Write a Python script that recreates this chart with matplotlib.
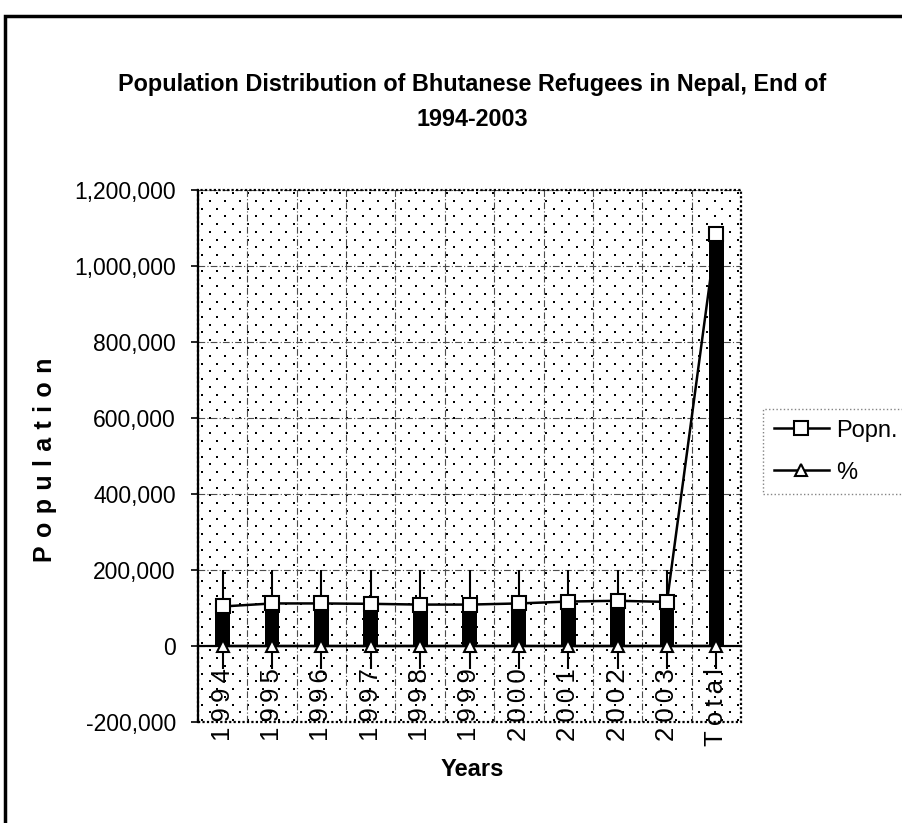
import numpy as np
import matplotlib
matplotlib.use("Agg")
import matplotlib.pyplot as plt
from matplotlib.patches import Rectangle
from matplotlib.ticker import FuncFormatter, MultipleLocator

# ---- data -------------------------------------------------------------
years = ["1994", "1995", "1996", "1997", "1998", "1999", "2000",
         "2001", "2002", "2003", "Total"]
popn = [104000, 112000, 112000, 111000, 109000, 109000, 112000,
        117000, 119000, 116000, 1085000]
pct = [9.6, 10.3, 10.3, 10.2, 10.0, 10.0, 10.3, 10.8, 11.0, 10.7, 100.0]
# high/low line ends
high_ends = [200000, 200000, 200000, 200000, 200000, 200000, 200000,
             200000, 200000, 200000]
low_ends = [-60000, -60000, -60000, -60000, -60000, -60000, -60000,
            -60000, -60000, -60000, -60000]

title_lines = ["Population Distribution of Bhutanese Refugees in Nepal, End of",
               "1994-2003"]

# ---- figure -----------------------------------------------------------
plt.rcParams['font.family'] = ['Liberation Sans', 'DejaVu Sans']

W, H = 903, 823
fig = plt.figure(figsize=(W / 100, H / 100), dpi=100)
fig.patch.set_facecolor('white')

ax_l, ax_r, ax_t, ax_b = 198, 741, 190, 722
ax = fig.add_axes([ax_l / W, 1 - ax_b / H, (ax_r - ax_l) / W, (ax_b - ax_t) / H])
ax.set_facecolor('white')

x = np.arange(len(years))
ax.set_xlim(-0.5, len(years) - 0.5)
ax.set_ylim(-200000, 1200000)

# stippled plot-area fill
pw, ph = ax_r - ax_l, ax_b - ax_t
dx, dy = 15.3, 7.75
xs, ys = [], []
for i, yy in enumerate(np.arange(3.0, ph, dy)):
    off = 4.0 if i % 2 == 0 else 4.0 + dx / 2
    cols = np.arange(off, pw, dx)
    xs.extend(cols)
    ys.extend([yy] * len(cols))
ax.scatter(np.array(xs) / pw, 1 - np.array(ys) / ph, s=2.2, marker='s',
           color='black', linewidths=0, transform=ax.transAxes, zorder=0.5)

# grid
grid_style = dict(color='0.3', lw=0.8, ls=(0, (6, 2, 1, 2)))
ax.yaxis.set_major_locator(MultipleLocator(200000))
ax.grid(axis='y', which='major', zorder=1, **grid_style)
ax.set_xticks(x[:-1] + 0.5, minor=True)
ax.grid(axis='x', which='minor', zorder=1, **grid_style)
ax.set_axisbelow(True)

# spines / border
for s in ('top', 'right'):
    ax.spines[s].set_visible(False)
ax.spines['left'].set_linewidth(1.6)
ax.spines['bottom'].set_position(('data', 0))
ax.spines['bottom'].set_linewidth(1.6)
ax.add_patch(Rectangle((0, 0), 1, 1, transform=ax.transAxes, fill=False,
                       ec='black', lw=1.6, ls=(0, (1, 1)), zorder=6,
                       clip_on=False))

# high-low lines
ax.vlines(x[:len(high_ends)], popn[:len(high_ends)], high_ends,
          color='black', lw=1.5, zorder=2.8)
ax.vlines(x, low_ends, pct, color='black', lw=1.5, zorder=2.8)

# up-down bars
ax.bar(x, np.array(popn) - np.array(pct), bottom=pct, width=0.3,
       color='black', zorder=3)

# series
l1, = ax.plot(x, popn, '-', color='black', lw=1.8, marker='s', ms=9.5,
              mfc='white', mec='black', mew=1.5, zorder=5, label='Popn.')
l2, = ax.plot(x, pct, '-', color='black', lw=1.8, marker='^', ms=9,
              mfc='white', mec='black', mew=1.5, zorder=5, label='%',
              clip_on=False)

# ticks
ax.yaxis.set_major_formatter(FuncFormatter(lambda v, p: f"{int(v):,}"))
ax.tick_params(axis='y', which='major', direction='out', length=5, width=1.2,
               pad=11, labelsize=16.5)
thin = "\u2009"
ax.set_xticks(x)
ax.set_xticklabels([thin.join(y) for y in years], rotation=90, fontsize=18.5)
ax.tick_params(axis='x', which='both', length=0, pad=16)

# legend
leg = fig.legend(handles=[l1, l2], labels=['Popn.', '%'], loc='upper left',
                 bbox_to_anchor=(763 / W, 1 - 409 / H),
                 bbox_transform=fig.transFigure, fontsize=17, frameon=True,
                 fancybox=False, borderaxespad=0, handlelength=2.35,
                 handletextpad=0.3, labelspacing=0.85, borderpad=0.45)
leg.get_frame().set_linestyle(':')
leg.get_frame().set_edgecolor('0.4')
leg.get_frame().set_linewidth(1.0)

# titles and axis labels
fig.text(472 / W, 1 - 85 / H, title_lines[0], ha='center', va='center',
         fontsize=16.8, fontweight='bold')
fig.text(472 / W, 1 - 120 / H, title_lines[1], ha='center', va='center',
         fontsize=16.8, fontweight='bold')
fig.text(45 / W, 1 - 460 / H, "\u2004".join("Population"), rotation=90,
         ha='center', va='center', fontsize=18, fontweight='bold')
fig.text(472 / W, 1 - 770 / H, "Years", ha='center', va='center',
         fontsize=17, fontweight='bold')

# chart frame
fig.add_artist(Rectangle((5 / W, -0.05), 1.2, 1.05 - 16 / H,
                         transform=fig.transFigure, fill=False, lw=2.5,
                         ec='black'))

fig.savefig('out.png', dpi=100)
